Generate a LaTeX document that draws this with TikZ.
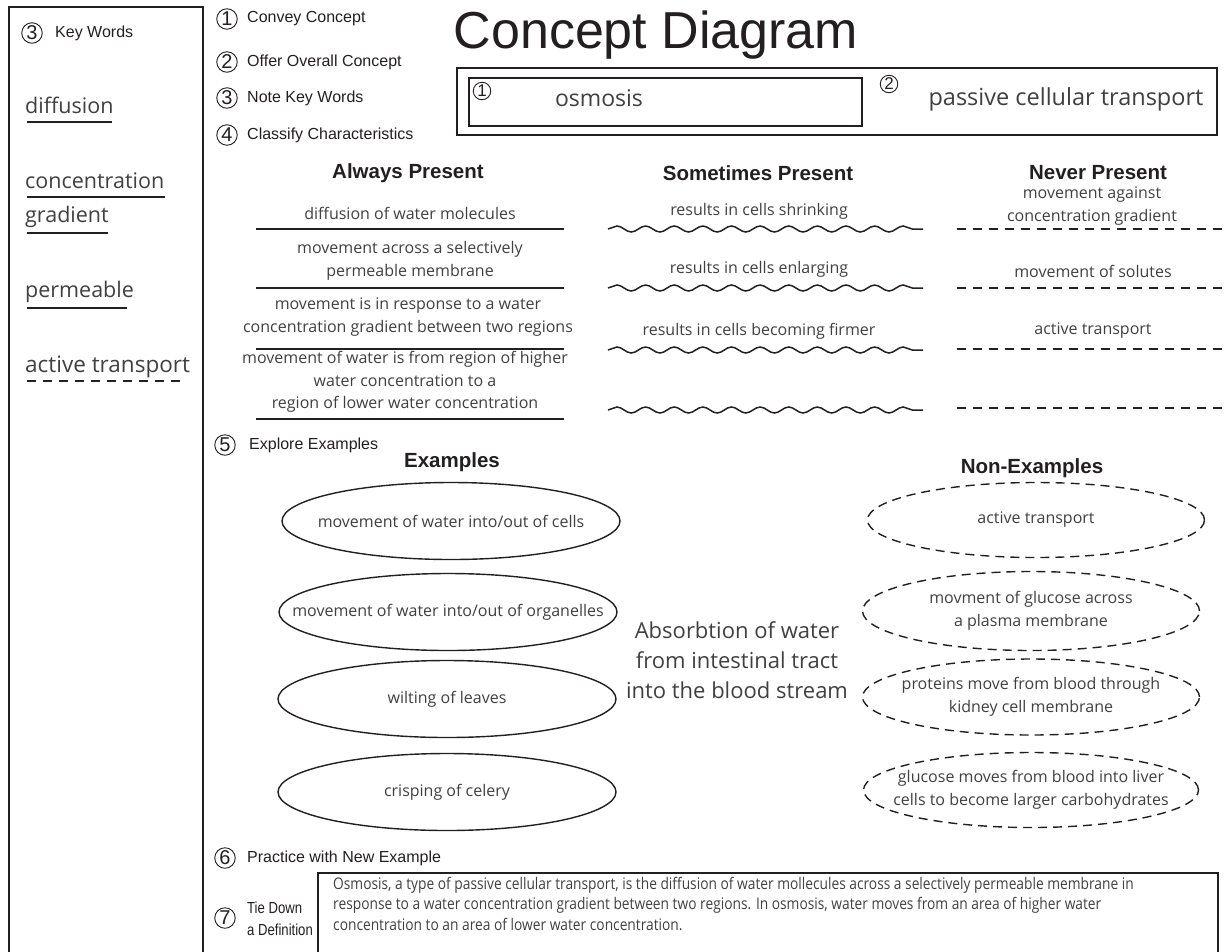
\documentclass[tikz,border=0pt]{standalone}
\usepackage{fontspec}
\setmainfont{Liberation Sans}
\newfontfamily\handfont{Open Sans}
\newfontfamily\narrowhand[FakeStretch=0.86]{Open Sans}
\newfontfamily\narrowsans[FakeStretch=0.82]{Liberation Sans}
\usetikzlibrary{shapes.geometric,decorations.pathmorphing}

\definecolor{ink}{HTML}{231F20}
\definecolor{pencil}{HTML}{404040}

\begin{document}
\begin{tikzpicture}[x=1pt,y=-1pt,
    steptext/.style={anchor=west,inner sep=0pt,text=ink,font=\fontsize{16}{18}\selectfont},
    numc/.style={circle,draw=ink,line width=0.9pt,inner sep=0pt,minimum size=20.5pt,text=ink,font=\fontsize{20}{20}\selectfont},
    smallnumc/.style={numc,minimum size=17.5pt,font=\fontsize{17}{17}\selectfont},
    head/.style={text=ink,font=\fontsize{20.5}{22}\selectfont\bfseries},
    hand/.style={align=center,inner sep=0pt,text=pencil,font=\handfont\fontsize{16}{22.5}\selectfont},
    bighand/.style={inner sep=0pt,text=pencil,font=\handfont\fontsize{21.5}{30}\selectfont},
    thinline/.style={line width=1.3pt,draw=ink},
    solidline/.style={line width=1.6pt,draw=ink},
    wavy/.style={line width=1.5pt,draw=ink,decorate,decoration={snake,segment length=28.63pt,amplitude=3pt}},
    dashrule/.style={line width=1.5pt,draw=ink,dash pattern=on 9pt off 7pt},
    ovalline/.style={line width=1.4pt,draw=ink},
    dashoval/.style={ovalline,dash pattern=on 9pt off 6pt}]
\useasboundingbox (0,0) rectangle (1225,951);

\draw[thinline] (9,955) -- (9,7) -- (203,7) -- (203,955);
\node[numc] (kwnum) at (32,33) {3};
\node[steptext] (kwtext) at (55,33) {Key Words};
\foreach \w/\y/\u/\l [count=\i] in {diffusion/113/122/112, concentration/188/197/165, gradient/222/233/108, permeable/297/308/127} {
    \node[bighand,anchor=base west] (kw\i) at (25,\y) {\w};
    \draw[solidline] (27,\u) -- (\l,\u);
}
\node[bighand,anchor=base west,font=\handfont\fontsize{22.5}{30}\selectfont] (kw5) at (25,372) {active transport};
\draw[dashrule] (27,381) -- (182,381);

\foreach \n/\y/\t in {1/19/Convey Concept, 2/62/Offer Overall Concept, 3/98/Note Key Words, 4/135/Classify Characteristics} {
    \node[numc] (num\n) at (227,\y) {\n};
    \node[steptext] (numtext\n) at (247,\y) {\t};
}
\node[anchor=base,text=ink,font=\fontsize{52}{52}\selectfont] (title) at (656,48) {Concept Diagram};

\draw[thinline] (457,68) rectangle (1217,135);
\draw[thinline] (469,78) rectangle (862,126);
\node[smallnumc] (conv) at (482,91) {1};
\node[bighand,font=\handfont\fontsize{23}{30}\selectfont] (osmosis) at (599,98) {osmosis};
\node[smallnumc] (over) at (889,84) {2};
\node[bighand,font=\handfont\fontsize{23.5}{30}\selectfont] (passive) at (1066,99) {passive cellular transport};

\node[head] (always) at (408,173) {Always Present};
\node[head] (sometimes) at (758,173) {Sometimes Present};
\node[head] (never) at (1098,173) {Never Present};
\foreach \y in {229,288,349,419} \draw[solidline] (256,\y) -- (564,\y);
\foreach \y in {229,288,350,410} \draw[wavy] (608,\y) -- (923,\y);
\foreach \y in {229,288,349,408} \draw[dashrule] (957,\y) -- (1222,\y);

\node[hand] (a1) at (410,213) {diffusion of water molecules};
\node[hand] (a2) at (410,261) {movement across a selectively\\permeable membrane};
\node[hand] (a3) at (408,317) {movement is in response to a water\\concentration gradient between two regions};
\node[hand] (a4) at (405,382) {movement of water is from region of higher\\water concentration to a\\region of lower water concentration};
\node[hand] (s1) at (759,211) {results in cells shrinking};
\node[hand] (s2) at (759,269) {results in cells enlarging};
\node[hand] (s3) at (759,331) {results in cells becoming firmer};
\node[hand] (v1) at (1092,206) {movement against\\concentration gradient};
\node[hand] (v2) at (1093,271) {movement of solutes};
\node[hand] (v3) at (1093,331) {active transport};

\node[numc] (num5) at (225,445) {5};
\node[steptext] (numtext5) at (249,445) {Explore Examples};
\node[head] (examples) at (452,462) {Examples};
\node[head] (nonexamples) at (1032,468) {Non-Examples};

\node[hand] (e1) at (451,521) {movement of water into/out of cells};
\node[hand] (e2) at (448,612) {movement of water into/out of organelles};
\node[hand] (e3) at (447,699) {wilting of leaves};
\node[hand] (e4) at (447,792) {crisping of celery};
\foreach \i in {1,...,4} \draw[ovalline] (e\i.center) ellipse [x radius=169pt, y radius=38.5pt];

\node[bighand,align=center,font=\handfont\fontsize{22}{30}\selectfont] (absorb) at (737,660) {Absorbtion of water\\from intestinal tract\\into the blood stream};

\node[hand] (ne1) at (1036,520) {active transport};
\node[hand] (ne2) at (1031,611) {movment of glucose across\\a plasma membrane};
\node[hand] (ne3) at (1031,697) {proteins move from blood through\\kidney cell membrane};
\node[hand] (ne4) at (1031,790) {glucose moves from blood into liver\\cells to become larger carbohydrates};
\draw[dashoval] (ne1.center) ellipse [x radius=168.5pt, y radius=37.5pt];
\draw[dashoval] (ne2.center) ellipse [x radius=168.5pt, y radius=39.5pt];
\draw[dashoval] (ne3.center) ellipse [x radius=168.5pt, y radius=38pt];
\draw[dashoval] (ne4.center) ellipse [x radius=167.5pt, y radius=37.5pt];

\node[numc] (num6) at (225,858) {6};
\node[steptext] (numtext6) at (247,858) {Practice with New Example};
\node[numc] (num7) at (225,918) {7};
\node[steptext,align=left,font=\narrowsans\fontsize{16}{22}\selectfont] (numtext7) at (247,919) {Tie Down\\a Definition};
\draw[thinline] (318,955) -- (318,873) -- (1218,873) -- (1218,955);
\node[anchor=north west,inner sep=0pt,align=left,text=pencil,font=\narrowhand\fontsize{16}{20.5}\selectfont] (definition) at (333,877) {Osmosis, a type of passive cellular transport, is the diffusion of water mollecules across a selectively permeable membrane in\\response to a water concentration gradient between two regions. In osmosis, water moves from an area of higher water\\concentration to an area of lower water concentration.};
\end{tikzpicture}
\end{document}
